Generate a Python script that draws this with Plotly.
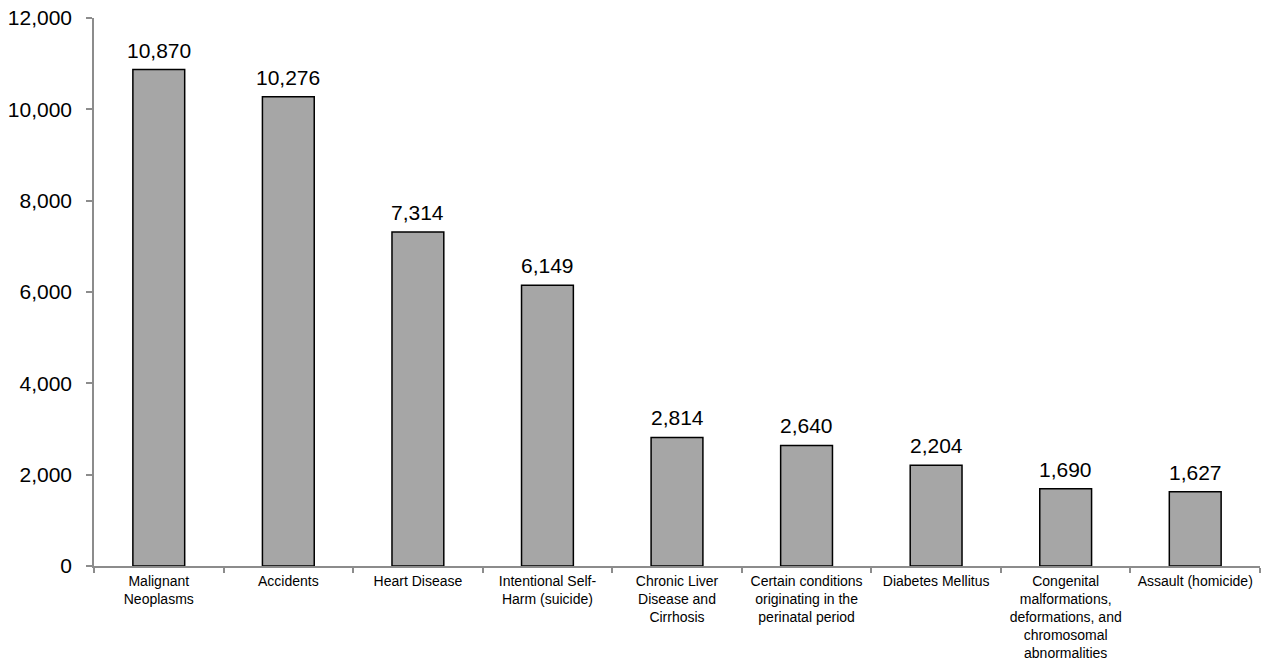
import plotly.graph_objects as go

categories = [
    "Malignant<br>Neoplasms",
    "Accidents",
    "Heart Disease",
    "Intentional Self-<br>Harm (suicide)",
    "Chronic Liver<br>Disease and<br>Cirrhosis",
    "Certain conditions<br>originating in the<br>perinatal period",
    "Diabetes Mellitus",
    "Congenital<br>malformations,<br>deformations, and<br>chromosomal<br>abnormalities",
    "Assault (homicide)",
]
deaths = [10870, 10276, 7314, 6149, 2814, 2640, 2204, 1690, 1627]
y_ticks = [0, 2000, 4000, 6000, 8000, 10000, 12000]

FONT = "Liberation Sans, Arial, sans-serif"

fig = go.Figure(
    go.Bar(
        x=categories,
        y=deaths,
        width=0.4,
        marker=dict(color="#a6a6a6", line=dict(color="#000000", width=1.5)),
        hoverinfo="x+y",
    )
)

# value labels above each bar
for cat, val in zip(categories, deaths):
    fig.add_annotation(
        x=cat, y=val, text=f"{val:,}", showarrow=False,
        yanchor="bottom", yshift=6,
        font=dict(family=FONT, size=21, color="#000000"),
    )

fig.update_layout(
    width=1274, height=661,
    margin=dict(l=94, r=14, t=18, b=95),
    paper_bgcolor="white", plot_bgcolor="white",
    showlegend=False,
    font=dict(family=FONT, color="#000000"),
)
fig.update_yaxes(
    range=[0, 12000], tickvals=y_ticks, tickformat=",",
    showgrid=False, zeroline=False, automargin=False,
    showline=True, linecolor="#8c8c8c", linewidth=1.5,
    ticks="outside", ticklen=6, tickcolor="#8c8c8c", tickwidth=1.5,
    tickfont=dict(family=FONT, size=21, color="#000000"),
    ticklabelstandoff=10,
)
fig.update_xaxes(
    showgrid=False, showline=True, linecolor="#8c8c8c", linewidth=1.5,
    ticks="outside", ticklen=5, tickcolor="#8c8c8c", tickwidth=1.5,
    tickson="boundaries", tickangle=0, automargin=False,
    tickfont=dict(family=FONT, size=14, color="#000000"),
    ticklabelstandoff=1,
)

fig.write_html("out.html")
